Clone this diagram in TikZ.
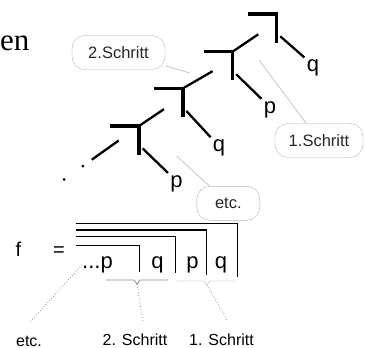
\documentclass[tikz,border=0pt]{standalone}
\usepackage{fontspec}
\setmainfont{Liberation Sans}
\newfontfamily\serifword{Liberation Serif}
\usetikzlibrary{calc}

\begin{document}
\begin{tikzpicture}[x=1pt, y=-1pt,
    stem/.style={line width=3.3pt},
    branch/.style={line width=2.3pt},
    leaf/.style={inner sep=0pt, anchor=base, font=\fontsize{22}{22}\selectfont},
    callout/.style={draw=black!30, rounded corners=13pt, minimum height=34pt, inner xsep=0pt, font=\fontsize{16.5}{18}\selectfont, text=black!85},
    pointer/.style={draw=black!22, line width=0.8pt},
    bracket/.style={line width=1.1pt},
    brace/.style={black!45, line width=0.8pt},
    hint/.style={black!45, line width=0.8pt, dotted},
    steplabel/.style={inner sep=0pt, font=\fontsize{16}{18}\selectfont}]

    \useasboundingbox (0,0) rectangle (365,348);

    \node (head) [anchor=base east, inner sep=0pt, font=\serifword\fontsize{31}{31}\selectfont] at (29.5,50) {en};

    %% tree
    \coordinate (n1) at (276.5,14);
    \coordinate (n2) at (232.5,51.7);
    \coordinate (n3) at (183,88.3);
    \coordinate (n4) at (139,126);
    \foreach \n in {n1,n2,n3,n4}
        \draw[stem] ($(\n)+(-29,0)$) -- (\n) -- ++(0,28.5);

    \node (l1) [leaf] at (313,71.5) {q};
    \node (l2) [leaf] at (270,113) {p};
    \node (l3) [leaf] at (219,151.5) {q};
    \node (l4) [leaf] at (176.5,187) {p};
    \draw[branch, shorten <=5pt, shorten >=3pt] ($(n1)+(0,19)$) -- (l1.north west);
    \draw[branch, shorten <=5pt, shorten >=3pt] ($(n2)+(0,19)$) -- (l2.north west);
    \draw[branch, shorten <=5pt, shorten >=3pt] ($(n3)+(0,19)$) -- (l3.north west);
    \draw[branch, shorten <=5pt, shorten >=3pt] ($(n4)+(0,19)$) -- (l4.north west);

    \draw[branch, shorten >=22pt] (n2) -- ($(n1)+(0,8)$);
    \draw[branch, shorten >=23pt] (n3) -- ($(n2)+(0,8)$);
    \draw[branch, shorten >=23pt] (n4) -- ($(n3)+(0,8)$);
    \coordinate (tail) at (61.7,181.2);
    \draw[branch, dash pattern=on 0pt off 25pt on 33pt off 10pt on 2pt off 21pt on 2pt off 40pt] (n4) -- (tail);

    %% callouts
    \node (c2) [callout, minimum width=93pt] at (118.5,52.5) {2.Schritt};
    \node (c1) [callout, minimum width=88pt] at (319,140.5) {1.Schritt};
    \node (c0) [callout, minimum width=63pt] at (228.3,203.3) {etc.};
    \coordinate (p2) at (190,73);
    \coordinate (p1) at (259,60);
    \coordinate (p0) at (176.7,156);
    \draw[pointer] (c2) -- (p2);
    \draw[pointer] (c1) -- (p1);
    \draw[pointer] (c0) -- (p0);

    %% nested brackets
    \node (f) [inner sep=0pt, anchor=base, font=\fontsize{20}{20}\selectfont] at (18.5,256) {f};
    \node (eq) [inner sep=0pt, anchor=base, font=\fontsize{20}{20}\selectfont] at (59,256) {=};
    \draw[bracket] (76,223.3) -| (237.3,277);
    \draw[bracket] (76,230) -| (206.7,275);
    \draw[bracket] (76,236.7) -| (175.5,273);
    \draw[bracket] (76,245.5) -| (139.3,272);

    \node (w0) [leaf, anchor=base west] at (82,268.5) {...p};
    \node (w1) [leaf] at (157.5,268.5) {q};
    \node (w2) [leaf] at (192.5,268.5) {p};
    \node (w3) [leaf] at (221,268.5) {q};

    \coordinate (b2) at (137,284);
    \coordinate (b1) at (207,285);
    \draw[brace] (106,280) -- (134,280) -- (b2) -- (140,280) -- (168,280);
    \draw[brace, black!15] (177,281) -- (204,281) -- (b1) -- (210,281) -- (236,281);

    \node (s0) [steplabel] at (29,341) {etc.};
    \node (s2) [steplabel] at (135,340) {2. Schritt};
    \node (s1) [steplabel] at (221.5,340) {1. Schritt};
    \coordinate (e0) at (30,322);
    \coordinate (e2) at (143,322);
    \coordinate (e1) at (227,320);
    \draw[hint] (w0.west) -- (e0);
    \draw[hint] (b2) -- (e2);
    \draw[hint] (b1) -- (e1);

\end{tikzpicture}
\end{document}
